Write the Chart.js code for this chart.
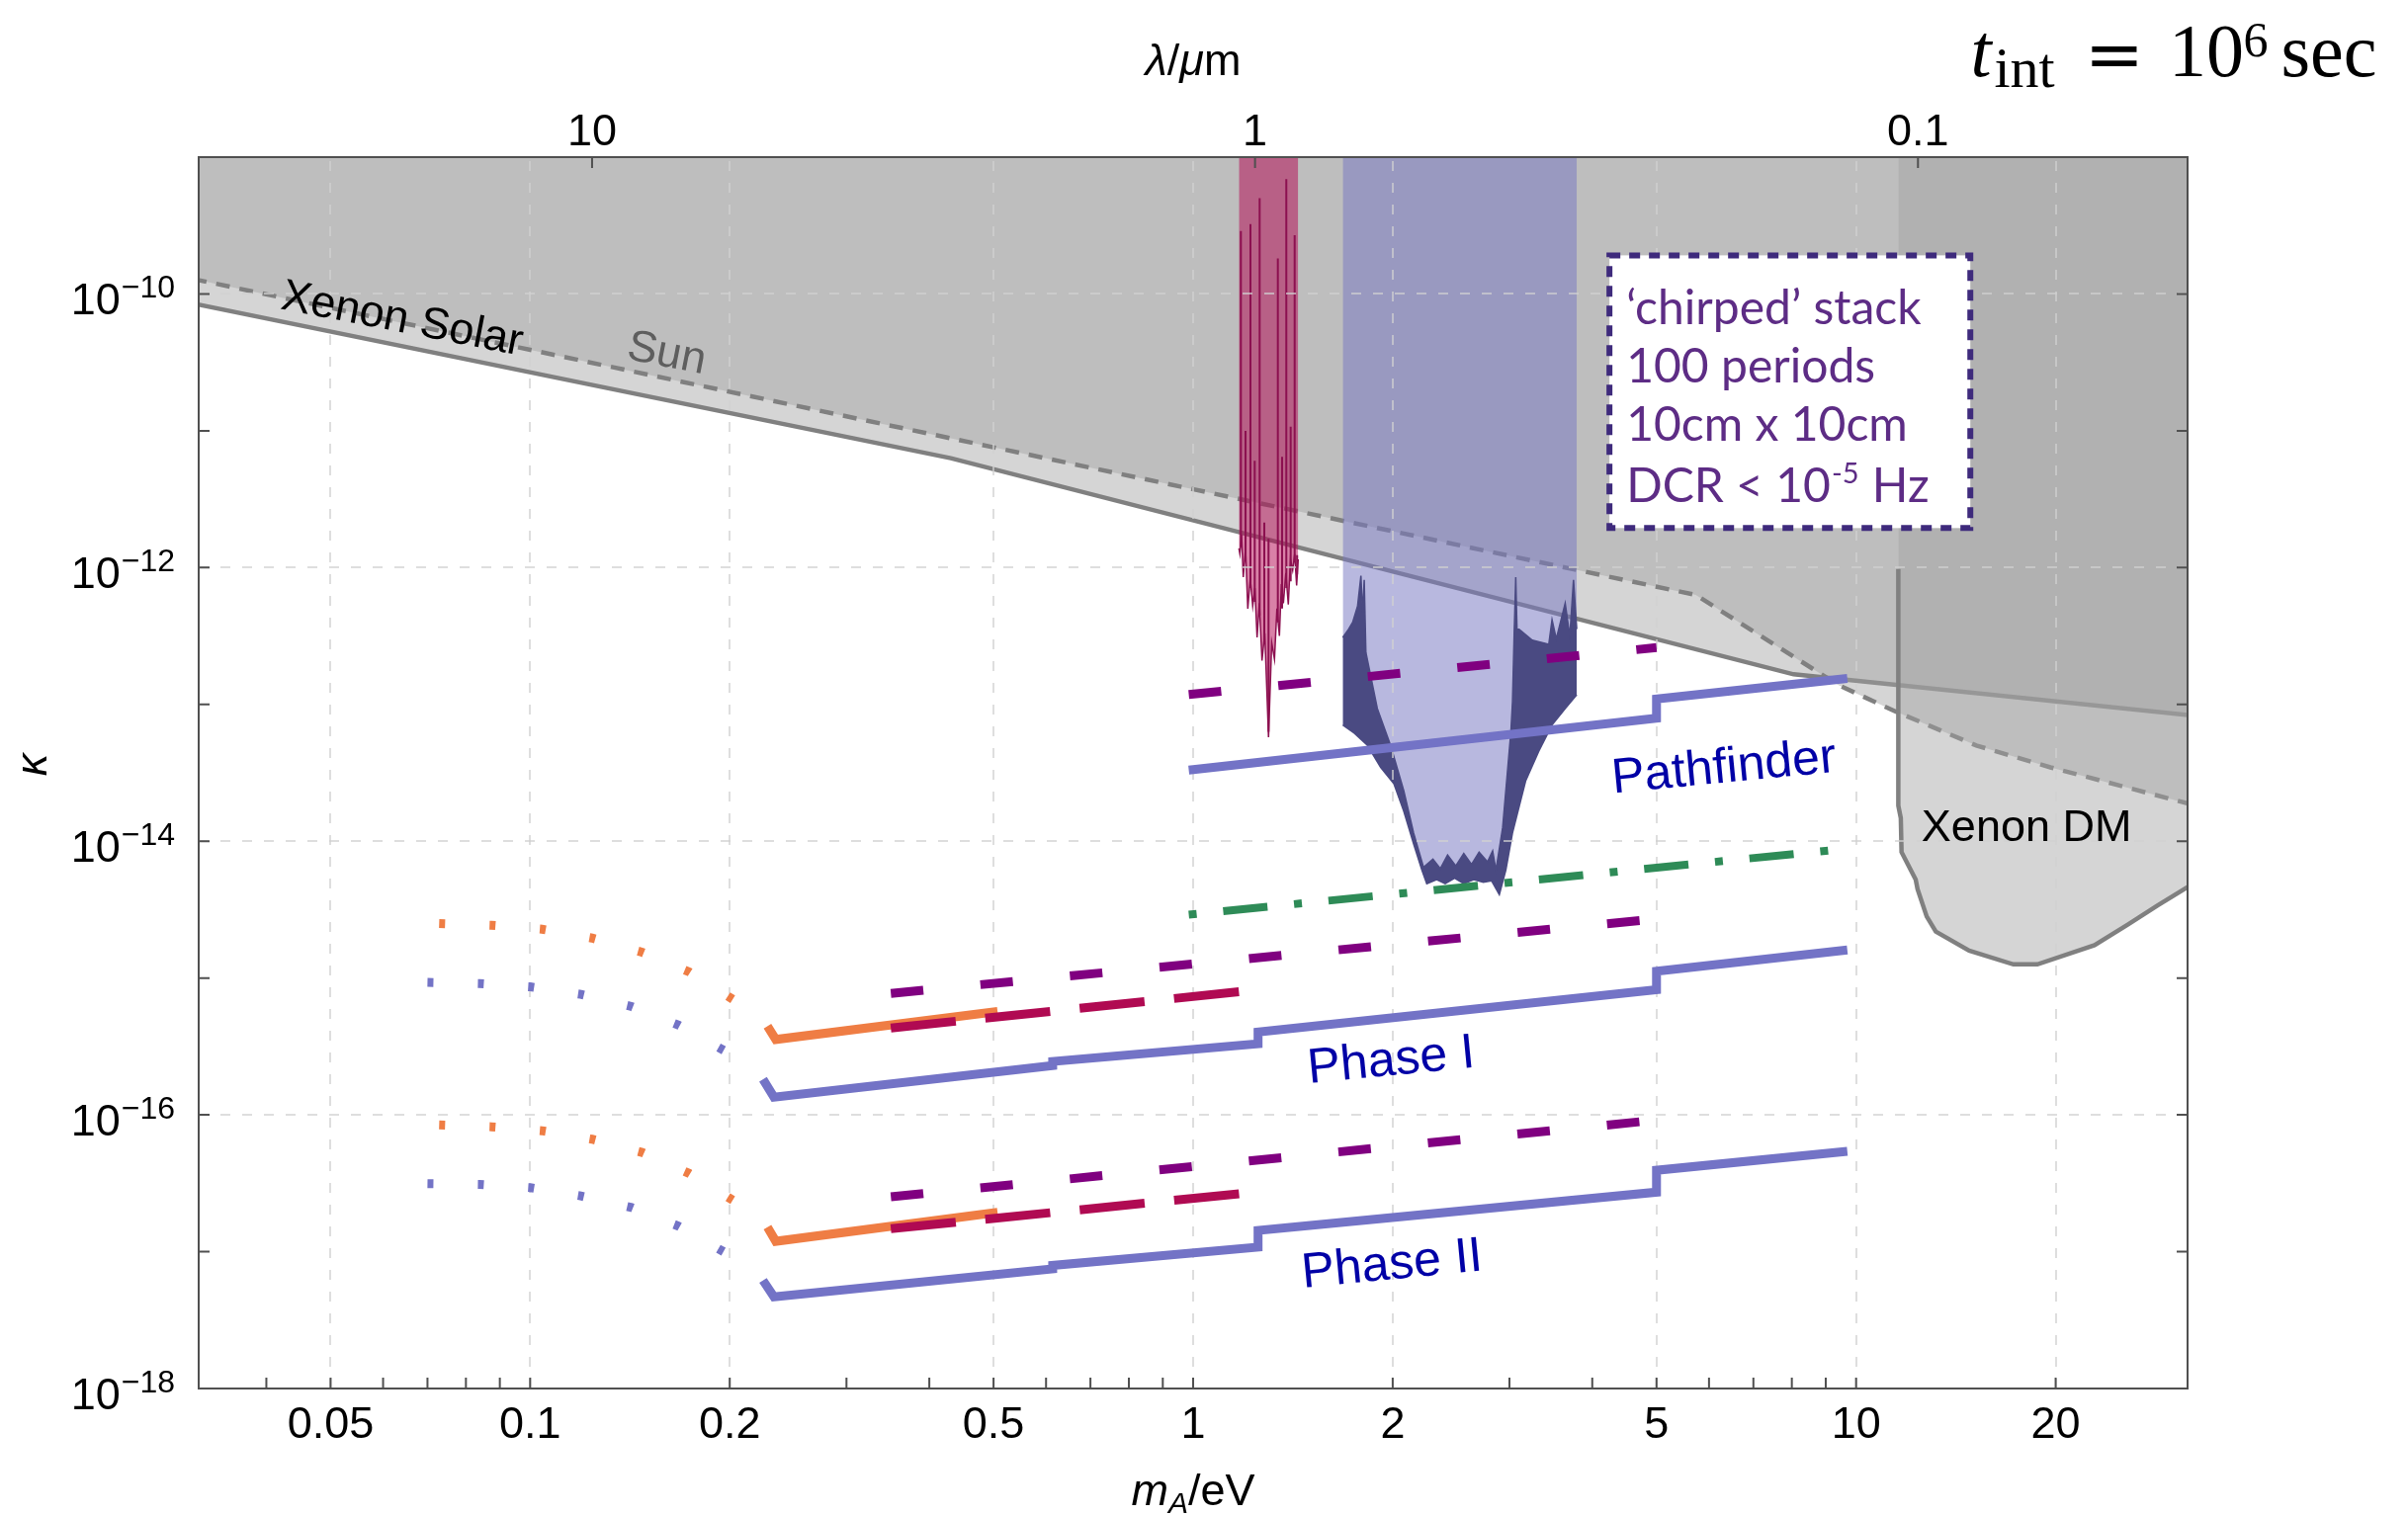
<!DOCTYPE html>
<html>
<head>
<meta charset="utf-8">
<script src="https://cdn.jsdelivr.net/npm/chart.js@4.4.1/dist/chart.umd.min.js"></script>
<style>
  html, body { margin: 0; padding: 0; background: #fff; }
  canvas { display: block; }
</style>
</head>
<body>
<canvas id="kappaChart" width="2436" height="1533"></canvas>
<script>
// values: photon mass m_A in eV, kappa given as log10(kappa)

// axes
var massTicks = [0.04, 0.05, 0.06, 0.07, 0.08, 0.09, 0.1, 0.2, 0.3, 0.4, 0.5, 0.6, 0.7, 0.8, 0.9, 1, 2, 3, 4, 5, 6, 7, 8, 9, 10, 20];
var massLabels = ['0.05', '0.1', '0.2', '0.5', '1', '2', '5', '10', '20'];
var lambdaTicks = [10, 1, 0.1];
var kappaTickExps = [-17, -16, -15, -14, -13, -12, -11, -10];
var kappaGridExps = [-16, -14, -12, -10];
var kappaLabelExps = [-18, -16, -14, -12, -10];

// excluded regions (grey)
var solarM = [0.031, 0.431, 8.05, 32];
var solarLogK = [-10.07, -11.20, -12.78, -13.08];
var sunM = [0.031, 5.73, 9.42, 11.45, 15.18, 19.64, 32];
var sunLogK = [-9.89, -12.20, -12.86, -13.05, -13.30, -13.46, -13.73];
var dmM = [11.58, 11.58, 11.58, 11.68, 11.71, 12.30, 12.38, 12.78, 13.19, 14.81, 17.27, 18.77, 22.89, 25.69, 28.47, 32];
var dmLogK = [-9, -12.01, -13.74, -13.83, -14.08, -14.28, -14.35, -14.55, -14.66, -14.80, -14.90, -14.90, -14.76, -14.61, -14.47, -14.32];

// red (single stack) sensitivity
var redM = [1.1723, 1.1763, 1.1832, 1.1902, 1.1996, 1.2091, 1.2195, 1.2300, 1.2393, 1.2487, 1.2586, 1.2703, 1.2826, 1.2994, 1.3138, 1.3265, 1.3379, 1.3494, 1.3587, 1.3681, 1.3799, 1.3918, 1.4023, 1.4130, 1.4228, 1.4326, 1.4405];
var redLogK = [-11.86, -11.90, -11.76, -12.07, -11.86, -12.30, -12.08, -12.28, -12.15, -12.51, -12.26, -12.68, -12.48, -13.24, -12.55, -12.67, -12.30, -12.50, -12.12, -12.26, -12.04, -12.27, -11.94, -12.02, -11.90, -12.13, -11.94];
var redSpikeM = [1.1804, 1.1996, 1.2203, 1.2385, 1.2599, 1.2804, 1.2994, 1.3421, 1.3620, 1.3822, 1.4033, 1.4228, 1.4350];
var redSpikeBase = [-11.85, -11.95, -12.15, -12.25, -12.35, -12.55, -13.20, -12.40, -12.30, -12.15, -12.10, -11.95, -12.05];
var redSpikeTop = [-9.54, -11.00, -9.49, -11.22, -9.30, -11.67, -11.79, -9.74, -11.19, -9.16, -10.97, -9.57, -11.91];

// blue (chirped stack) sensitivity: lower edge and top of the dark band
var blueLowM = [1.6816, 1.7505, 1.8322, 1.9184, 2.0081, 2.0782, 2.1508, 2.2130, 2.2513, 2.33, 2.40, 2.48, 2.56, 2.65, 2.74, 2.82, 2.8966, 2.9630, 3.0320, 3.1736, 3.3230, 3.4784, 3.6410, 3.7903];
var blueLowLogK = [-13.15, -13.21, -13.30, -13.46, -13.58, -13.78, -14.02, -14.21, -14.31, -14.28, -14.31, -14.27, -14.31, -14.28, -14.30, -14.29, -14.39, -14.21, -13.94, -13.56, -13.34, -13.15, -13.03, -12.93];
var blueHighM = [1.6816, 1.7107, 1.7403, 1.7704, 1.7911, 1.8011, 1.8117, 1.8223, 1.8961, 1.9855, 2.0782, 2.1508, 2.2259, 2.30, 2.36, 2.42, 2.49, 2.56, 2.63, 2.70, 2.78, 2.83, 2.8630, 2.93, 3.015, 3.032, 3.0497, 3.0665, 3.080, 3.1025, 3.2475, 3.4392, 3.4784, 3.53, 3.641, 3.70, 3.7476, 3.7903];
var blueHighLogK = [-12.51, -12.46, -12.40, -12.28, -12.06, -12.33, -12.09, -12.62, -13.03, -13.30, -13.63, -13.94, -14.19, -14.13, -14.20, -14.10, -14.18, -14.09, -14.17, -14.08, -14.15, -14.07, -14.21, -13.90, -13.20, -12.98, -12.48, -12.07, -12.45, -12.45, -12.53, -12.56, -12.38, -12.52, -12.26, -12.50, -12.09, -12.45];

// projected reaches
var pathM = [0.985, 5.0, 5.0, 9.7];
var pathLogK = [-13.48, -13.10, -12.96, -12.81];
var phaseM = [0.2245, 0.2332, 0.614, 0.614, 1.253, 1.253, 5.0, 5.0, 9.7];
var phase1LogK = [-15.74, -15.87, -15.64, -15.61, -15.48, -15.395, -15.085, -14.95, -14.795];
var phase2LogK = [-17.21, -17.33, -17.125, -17.10, -16.967, -16.845, -16.565, -16.405, -16.267];
var blueDotM = [0.070, 0.0839, 0.100, 0.1192, 0.1422, 0.1675, 0.1959];
var blueDot1LogK = [-15.032, -15.040, -15.064, -15.119, -15.208, -15.345, -15.528];
var blueDot2LogK = [-16.503, -16.508, -16.532, -16.592, -16.677, -16.814, -17.001];
var orangeM = [0.228, 0.2347, 0.507];
var orange1LogK = [-15.352, -15.449, -15.244];
var orange2LogK = [-16.821, -16.924, -16.713];
var orangeDotM = [0.0729, 0.0874, 0.1042, 0.124, 0.1474, 0.1737, 0.2021];
var orangeDot1LogK = [-14.601, -14.614, -14.643, -14.708, -14.811, -14.955, -15.155];
var orangeDot2LogK = [-16.074, -16.087, -16.116, -16.178, -16.274, -16.428, -16.623];
var crimsonM = [0.35, 1.19];
var crimson1LogK = [-15.365, -15.097];
var crimson2LogK = [-16.832, -16.574];
var purplePathM = [0.985, 5.0];
var purplePathLogK = [-12.928, -12.585];
var purpleM = [0.35, 5.0];
var purple1LogK = [-15.112, -14.568];
var purple2LogK = [-16.599, -16.038];
var greenM = [0.985, 9.7];
var greenLogK = [-14.537, -14.054];

var BLUE = '#7373c6';
var PURPLE = '#800080';
var CRIMSON = '#b00a52';
var ORANGE = '#ef7d44';
var GREEN = '#2e8b57';
var NAVY = '#4a4a82';
var GREY_FILL = 'rgba(162,162,162,0.45)';
var DOTS = [6, 45];
var HC = 1.23984; // lambda[um] = HC / m[eV]

function series(ms, ks) {
    return ms.map(function (m, i) { return { x: m, y: Math.pow(10, ks[i]) }; });
}
function spikes(ms, base, top) {
    var out = [];
    ms.forEach(function (m, i) {
        out.push({ x: m, y: Math.pow(10, base[i]) }, { x: m, y: Math.pow(10, top[i]) }, { x: m, y: null });
    });
    return out;
}
function curve(label, ms, ks, color, dash, order, width) {
    return {
        label: label, data: series(ms, ks), borderColor: color, borderWidth: width || 9,
        borderDash: dash || [], fill: false, order: order,
        borderCapStyle: 'butt', borderJoinStyle: 'miter'
    };
}

// text placed on the plot (anchored in data coordinates)
var notes = [
    { text: 'Xenon Solar', m: 0.0641, k: -10.19, rot: 11, size: 45, color: '#000' },
    { text: 'Sun', m: 0.1606, k: -10.44, rot: 11, size: 45, color: '#5e5e5e' },
    { text: 'Pathfinder', m: 6.32, k: -13.47, rot: -5.5, size: 50, color: '#0000a6' },
    { text: 'Phase I', m: 1.99, k: -15.61, rot: -5.5, size: 50, color: '#0000a6' },
    { text: 'Phase II', m: 1.995, k: -17.10, rot: -5.5, size: 50, color: '#0000a6' },
    { text: 'Xenon DM', m: 18.08, k: -13.91, rot: 0, size: 45, color: '#000' }
];
var chirpBox = { m: [4.246, 14.87], k: [-9.718, -11.711] };
var chirpLines = ['\u2018chirped\u2019 stack', '100 periods', '10cm x 10cm'];

function drawRuns(ctx, parts, cx, base) {
    var w = 0;
    parts.forEach(function (p) { ctx.font = p.font; p.w = ctx.measureText(p.t).width; w += p.w; });
    var x = cx - w / 2;
    ctx.textAlign = 'left';
    ctx.textBaseline = 'alphabetic';
    parts.forEach(function (p) { ctx.font = p.font; ctx.fillText(p.t, x, base + (p.dy || 0)); x += p.w; });
}

var decor = {
    id: 'decor',
    afterDatasetDraw: function (chart, args) {
        if (chart.data.datasets[args.index].label !== 'blueBand') return;
        // dashed grid goes over the shaded regions but under the reach curves
        var ctx = chart.ctx, a = chart.chartArea, sc = chart.scales;
        ctx.save();
        ctx.beginPath();
        ctx.rect(a.left, a.top, a.right - a.left, a.bottom - a.top);
        ctx.clip();
        ctx.strokeStyle = 'rgba(208,208,208,0.71)';
        ctx.lineWidth = 2;
        ctx.setLineDash([10, 12]);
        massLabels.forEach(function (s) {
            var x = Math.round(sc.x.getPixelForValue(Number(s)));
            ctx.beginPath(); ctx.moveTo(x, a.bottom); ctx.lineTo(x, a.top); ctx.stroke();
        });
        kappaGridExps.forEach(function (e) {
            var y = Math.round(sc.y.getPixelForValue(Math.pow(10, e)));
            ctx.beginPath(); ctx.moveTo(a.left, y); ctx.lineTo(a.right, y); ctx.stroke();
        });
        ctx.restore();
    },
    afterDatasetsDraw: function (chart) {
        var ctx = chart.ctx, sc = chart.scales;
        ctx.save();
        notes.forEach(function (n) {
            ctx.save();
            ctx.translate(sc.x.getPixelForValue(n.m), sc.y.getPixelForValue(Math.pow(10, n.k)));
            ctx.rotate(n.rot * Math.PI / 180);
            ctx.font = n.size + 'px "Liberation Sans"';
            ctx.fillStyle = n.color;
            ctx.textAlign = 'center';
            ctx.textBaseline = 'middle';
            ctx.fillText(n.text, 0, 0);
            ctx.restore();
        });

        var x0 = sc.x.getPixelForValue(chirpBox.m[0]), x1 = sc.x.getPixelForValue(chirpBox.m[1]);
        var y0 = sc.y.getPixelForValue(Math.pow(10, chirpBox.k[0])), y1 = sc.y.getPixelForValue(Math.pow(10, chirpBox.k[1]));
        ctx.fillStyle = '#fff';
        ctx.fillRect(x0, y0, x1 - x0, y1 - y0);
        ctx.setLineDash([11, 9]);
        ctx.lineWidth = 6;
        ctx.strokeStyle = '#3e2a7c';
        ctx.strokeRect(x0, y0, x1 - x0, y1 - y0);
        ctx.setLineDash([]);
        ctx.fillStyle = '#5d2c85';
        ctx.textAlign = 'left';
        ctx.textBaseline = 'alphabetic';
        ctx.font = '48px Lato';
        var tx = x0 + 17;
        chirpLines.forEach(function (s, i) { ctx.fillText(s, tx, y0 + 70 + i * 59); });
        var yb = y0 + 250;
        var t1 = 'DCR < 10';
        ctx.fillText(t1, tx, yb);
        var w1 = ctx.measureText(t1).width;
        ctx.font = '29px Lato';
        ctx.fillText('-5', tx + w1 + 1, yb - 19);
        var w2 = ctx.measureText('-5').width;
        ctx.font = '48px Lato';
        ctx.fillText(' Hz', tx + w1 + w2 + 2, yb);
        ctx.restore();
    },
    afterDraw: function (chart) {
        var ctx = chart.ctx, a = chart.chartArea, sc = chart.scales;
        ctx.save();
        // frame with inward ticks
        ctx.strokeStyle = '#505050';
        ctx.lineWidth = 2;
        ctx.strokeRect(a.left, a.top, a.right - a.left, a.bottom - a.top);
        ctx.beginPath();
        massTicks.forEach(function (v) {
            var x = sc.x.getPixelForValue(v);
            ctx.moveTo(x, a.bottom); ctx.lineTo(x, a.bottom - 11);
        });
        lambdaTicks.forEach(function (v) {
            var x = sc.xTop.getPixelForValue(v);
            ctx.moveTo(x, a.top); ctx.lineTo(x, a.top + 11);
        });
        kappaTickExps.forEach(function (e) {
            var y = sc.y.getPixelForValue(Math.pow(10, e));
            ctx.moveTo(a.left, y); ctx.lineTo(a.left + 11, y);
            ctx.moveTo(a.right, y); ctx.lineTo(a.right - 11, y);
        });
        ctx.stroke();

        // y tick labels 10^-n
        ctx.fillStyle = '#000';
        ctx.textAlign = 'right';
        ctx.textBaseline = 'alphabetic';
        kappaLabelExps.forEach(function (e) {
            var y = sc.y.getPixelForValue(Math.pow(10, e));
            var sup = '\u2212' + Math.abs(e);
            ctx.font = '32px "Liberation Sans"';
            var ws = ctx.measureText(sup).width;
            var xr = a.left - 24;
            ctx.fillText(sup, xr, y + 4);
            ctx.font = '45px "Liberation Sans"';
            ctx.fillText('10', xr - ws - 1, y + 21);
        });

        // axis titles
        drawRuns(ctx, [
            { t: 'm', font: 'italic 45px "Liberation Sans"' },
            { t: 'A', font: 'italic 30px "Liberation Sans"', dy: 8 },
            { t: '/eV', font: '45px "Liberation Sans"' }
        ], (a.left + a.right) / 2, 1523);
        drawRuns(ctx, [
            { t: '\u03bb', font: 'italic 45px "Liberation Sans"' },
            { t: '/', font: '45px "Liberation Sans"' },
            { t: '\u03bc', font: 'italic 45px "Liberation Sans"' },
            { t: 'm', font: '45px "Liberation Sans"' }
        ], (a.left + a.right) / 2, 76);
        ctx.save();
        ctx.translate(34, (a.top + a.bottom) / 2 - 8);
        ctx.rotate(-Math.PI / 2);
        ctx.font = 'italic 45px "Liberation Sans"';
        ctx.textAlign = 'center';
        ctx.textBaseline = 'middle';
        ctx.fillText('\u03ba', 0, 0);
        ctx.restore();

        // integration time
        ctx.textAlign = 'center';
        ctx.textBaseline = 'alphabetic';
        ctx.font = 'italic 76px "Liberation Serif"';
        ctx.fillText('t', 2004, 77);
        ctx.font = '58px "Liberation Serif"';
        ctx.fillText('int', 2048, 88);
        ctx.font = '72px "DejaVu Serif"';
        ctx.fillText('=', 2139, 80);
        ctx.font = '76px "Liberation Serif"';
        ctx.fillText('10', 2232, 77);
        ctx.font = '50px "Liberation Serif"';
        ctx.fillText('6', 2282, 57);
        ctx.font = '76px "Liberation Serif"';
        ctx.fillText('sec', 2356, 77);
        ctx.restore();
    }
};

Chart.defaults.font.family = '"Liberation Sans", Arial, sans-serif';

var canvas = document.getElementById('kappaChart').getContext('2d');
var chart = new Chart(canvas, {
    type: 'line',
    data: {
        datasets: [
            { label: 'Xenon Solar', data: series(solarM, solarLogK), borderColor: '#808080', borderWidth: 4.5, fill: 'end', backgroundColor: GREY_FILL, order: 100, clip: 0 },
            { label: 'Sun', data: series(sunM, sunLogK), borderColor: '#808080', borderWidth: 4.5, borderDash: [14, 10], fill: 'end', backgroundColor: GREY_FILL, order: 99, clip: 0 },
            {
                label: 'Xenon DM', data: series(dmM, dmLogK), borderColor: '#808080', borderWidth: 4.5, fill: 'end', backgroundColor: GREY_FILL, order: 98, clip: 0,
                segment: { borderColor: function (c) { return c.p0DataIndex === 0 ? 'rgba(0,0,0,0)' : '#808080'; } }
            },
            { label: 'red', data: series(redM, redLogK), borderColor: '#8c1050', borderWidth: 1.5, fill: 'end', backgroundColor: 'rgba(180,4,80,0.5)', order: 97 },
            { label: 'redSpikes', data: spikes(redSpikeM, redSpikeBase, redSpikeTop), borderColor: '#8c1050', borderWidth: 2, fill: false, order: 96 },
            { label: 'blueLow', data: series(blueLowM, blueLowLogK), borderColor: NAVY, borderWidth: 1.5, fill: 'end', backgroundColor: 'rgba(119,119,194,0.52)', order: 95 },
            { label: 'blueBand', data: series(blueHighM, blueHighLogK), borderColor: NAVY, borderWidth: 1.5, fill: '-1', backgroundColor: NAVY, order: 94 },

            curve('Pathfinder', pathM, pathLogK, BLUE, null, 12),
            curve('Phase I', phaseM, phase1LogK, BLUE, null, 12),
            curve('Phase II', phaseM, phase2LogK, BLUE, null, 12),
            curve('Phase I low mass', blueDotM, blueDot1LogK, BLUE, DOTS, 12),
            curve('Phase II low mass', blueDotM, blueDot2LogK, BLUE, DOTS, 12),
            curve('orange I', orangeM, orange1LogK, ORANGE, null, 11),
            curve('orange II', orangeM, orange2LogK, ORANGE, null, 11),
            curve('orange I low mass', orangeDotM, orangeDot1LogK, ORANGE, DOTS, 11),
            curve('orange II low mass', orangeDotM, orangeDot2LogK, ORANGE, DOTS, 11),
            curve('green', greenM, greenLogK, GREEN, [8, 27, 45, 27], 10, 8),
            curve('purple Pathfinder', purplePathM, purplePathLogK, PURPLE, [33, 58], 9),
            curve('purple I', purpleM, purple1LogK, PURPLE, [33, 58], 9),
            curve('purple II', purpleM, purple2LogK, PURPLE, [33, 58], 9),
            curve('crimson I', crimsonM, crimson1LogK, CRIMSON, [66, 30], 8),
            curve('crimson II', crimsonM, crimson2LogK, CRIMSON, [66, 30], 8)
        ]
    },
    options: {
        responsive: false,
        animation: false,
        events: [],
        layout: { padding: { left: 0, right: 223, top: 0, bottom: 0 } },
        elements: {
            point: { radius: 0, hoverRadius: 0 },
            line: { tension: 0 }
        },
        plugins: {
            legend: { display: false },
            tooltip: { enabled: false }
        },
        scales: {
            x: {
                type: 'logarithmic',
                position: 'bottom',
                bounds: 'data',
                min: Math.pow(10, -1.5),
                max: Math.pow(10, 1.5),
                afterBuildTicks: function (s) { s.ticks = massTicks.map(function (v) { return { value: v }; }); },
                afterFit: function (s) { s.height = 128; },
                grid: { display: false },
                border: { display: false },
                ticks: {
                    autoSkip: false, maxRotation: 0, minRotation: 0, padding: 3, color: '#000',
                    font: { size: 45 },
                    callback: function (v) {
                        var hit = massLabels.filter(function (s) { return Math.abs(Number(s) / v - 1) < 1e-6; });
                        return hit.length ? hit[0] : '';
                    }
                }
            },
            xTop: {
                type: 'logarithmic',
                position: 'top',
                reverse: true,
                bounds: 'data',
                min: HC / Math.pow(10, 1.5),
                max: HC / Math.pow(10, -1.5),
                afterBuildTicks: function (s) { s.ticks = lambdaTicks.map(function (v) { return { value: v }; }); },
                afterFit: function (s) { s.height = 159; },
                grid: { display: false },
                border: { display: false },
                ticks: {
                    autoSkip: false, maxRotation: 0, minRotation: 0, padding: -11, color: '#000',
                    font: { size: 45 },
                    callback: function (v) { return String(v); }
                }
            },
            y: {
                type: 'logarithmic',
                position: 'left',
                bounds: 'data',
                min: 1e-18,
                max: 1e-9,
                afterBuildTicks: function (s) {
                    var t = [];
                    for (var e = -18; e <= -9; e++) t.push({ value: Math.pow(10, e) });
                    s.ticks = t;
                },
                afterFit: function (s) { s.width = 201; },
                grid: { display: false },
                border: { display: false },
                ticks: { display: false }
            }
        }
    },
    plugins: [decor]
});
</script>
</body>
</html>
